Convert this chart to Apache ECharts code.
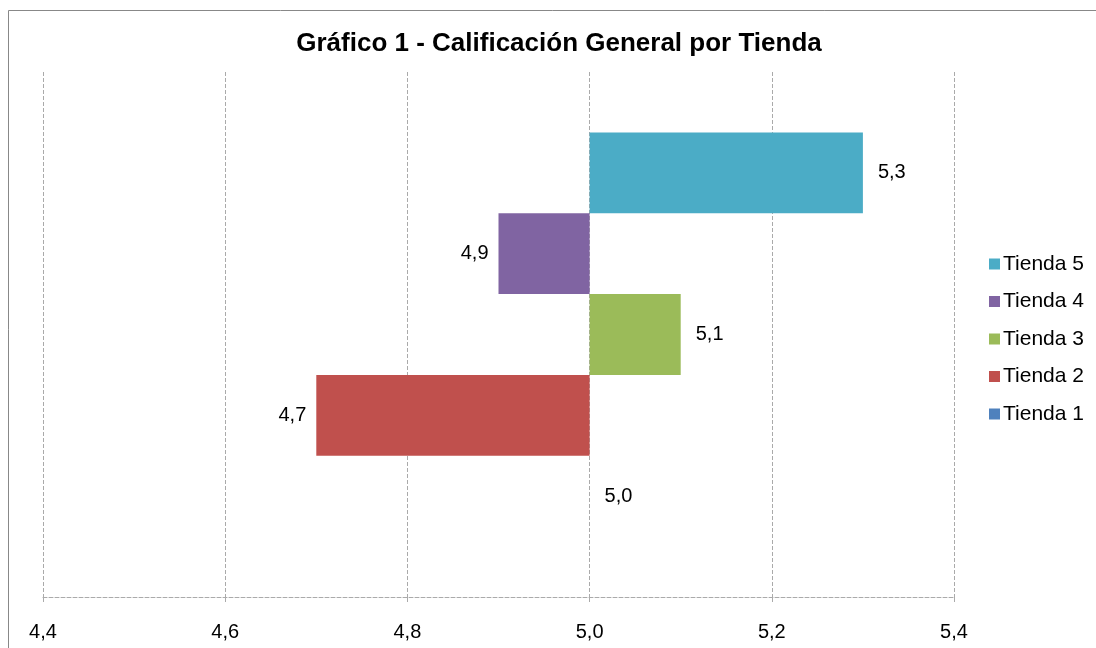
<!DOCTYPE html>
<html>
<head>
<meta charset="utf-8">
<script src="https://cdn.jsdelivr.net/npm/echarts@6/dist/echarts.min.js"></script>
<style>html,body{margin:0;padding:0;background:#fff}#c{width:1096px;height:648px}</style>
</head>
<body>
<div id="c"></div>
<script>
// Data
const stores = ['Tienda 5', 'Tienda 4', 'Tienda 3', 'Tienda 2', 'Tienda 1'];
const scores = [5.3, 4.9, 5.1, 4.7, 5.0];
const colors = ['#4BACC6', '#8064A2', '#9BBB59', '#C0504D', '#4F81BD'];
const origin = 5.0;
const xTicks = [4.4, 4.6, 4.8, 5.0, 5.2, 5.4];
const legendOrder = ['Tienda 5', 'Tienda 4', 'Tienda 3', 'Tienda 2', 'Tienda 1'];

const fmt = v => v.toFixed(1).replace('.', ',');
const FONT = 'Liberation Sans, Arial, sans-serif';

const series = [];
stores.forEach((name, i) => {
  const v = scores[i];
  const base = Math.min(v, origin);
  const len = Math.abs(v - origin);
  series.push({
    type: 'bar', stack: 's' + i, silent: true,
    itemStyle: { color: 'transparent' },
    data: [base], barGap: '0%', barCategoryGap: '23%',
    label: { show: false }, tooltip: { show: false }
  });
  series.push({
    name: name, type: 'bar', stack: 's' + i,
    itemStyle: { color: colors[i] },
    data: [len], barGap: '0%', barCategoryGap: '23%',
    label: {
      show: true,
      position: v < origin ? 'left' : 'right',
      distance: v < origin ? 10 : 15,
      formatter: () => fmt(v),
      fontFamily: FONT, fontSize: 20, color: '#000'
    }
  });
});

const chart = echarts.init(document.getElementById('c'), null, { renderer: 'canvas' });
chart.setOption({
  animation: false,
  backgroundColor: '#fff',
  title: {
    text: 'Gráfico 1 - Calificación General por Tienda',
    left: 559, textAlign: 'center', top: 31, padding: 0,
    textStyle: { fontFamily: FONT, fontSize: 26, fontWeight: 'bold', color: '#000' }
  },
  legend: {
    orient: 'vertical', left: 984, top: 248,
    data: legendOrder,
    itemWidth: 11, itemHeight: 11, itemGap: 15.5,
    icon: 'rect',
    textStyle: { fontFamily: FONT, fontSize: 21, color: '#000', lineHeight: 22, padding: [0, 0, 0, -2] }
  },
  grid: { left: 43, right: 142, top: 72, bottom: 51, containLabel: false },
  xAxis: {
    type: 'value', min: xTicks[0], max: xTicks[xTicks.length - 1], interval: 0.2,
    axisLine: { show: true, lineStyle: { color: '#aaa', type: [4, 2], width: 1 } },
    axisTick: { show: true, length: 5, lineStyle: { color: '#aaa' } },
    axisLabel: { formatter: v => fmt(v), fontFamily: FONT, fontSize: 20, color: '#000', margin: 25 },
    splitLine: { show: true, lineStyle: { color: '#aaa', type: [4, 2], width: 1 } }
  },
  yAxis: {
    type: 'category', data: ['General'], show: false
  },
  graphic: [{
    type: 'rect', shape: { x: 8.5, y: 10.5, width: 1200, height: 800 },
    style: { fill: 'none', stroke: '#888', lineWidth: 1 }, silent: true
  }],
  series: series
});
</script>
</body>
</html>
